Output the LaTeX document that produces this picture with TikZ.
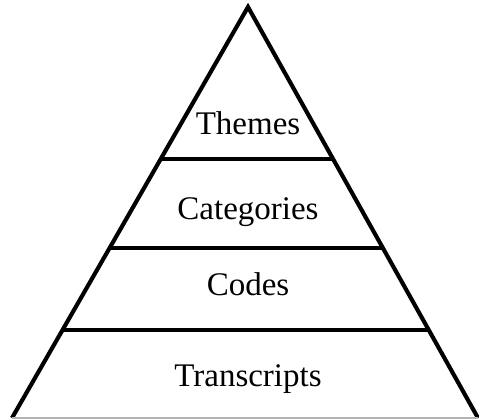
\documentclass[tikz,border=0pt]{standalone}
\usepackage{fontspec}
\setmainfont{Liberation Serif}
\usetikzlibrary{calc}
\tikzset{tier/.style={font=\fontsize{33}{40}\selectfont, inner sep=0pt, anchor=base},
	edge/.style={line width=1.45mm}}

\begin{document}
\begin{tikzpicture}[x=1pt,y=1pt]
			%%%%% START %%%%%
			\useasboundingbox (0,0) rectangle (479,418);
			\clip (0,0) rectangle (479,418);
			
			\coordinate (top) at (248,411);
			\coordinate (bl) at (12,0);
			\coordinate (br) at (478,0);
			
			\draw[edge, line join=miter] (bl) -- (top) -- (br);
			\draw[line width=0.5mm, color=black!30] (bl) -- (br);
			
			\coordinate (l1) at ($(top)!0.370!(bl)$);
			\coordinate (r1) at ($(top)!0.370!(br)$);
			\coordinate (l2) at ($(top)!0.586!(bl)$);
			\coordinate (r2) at ($(top)!0.586!(br)$);
			\coordinate (l3) at ($(top)!0.786!(bl)$);
			\coordinate (r3) at ($(top)!0.786!(br)$);
			
			\draw[edge] (l1) -- (r1);
			\draw[edge] (l2) -- (r2);
			\draw[edge] (l3) -- (r3);
			
			\node[tier] (themes) at (248,283) {Themes};
			\node[tier] (categories) at (248,198) {Categories};
			\node[tier] (codes) at (248,123) {Codes};
			\node[tier] (transcripts) at (248,32) {Transcripts};
			
			%%%%% END %%%%%
\end{tikzpicture}
\end{document}
